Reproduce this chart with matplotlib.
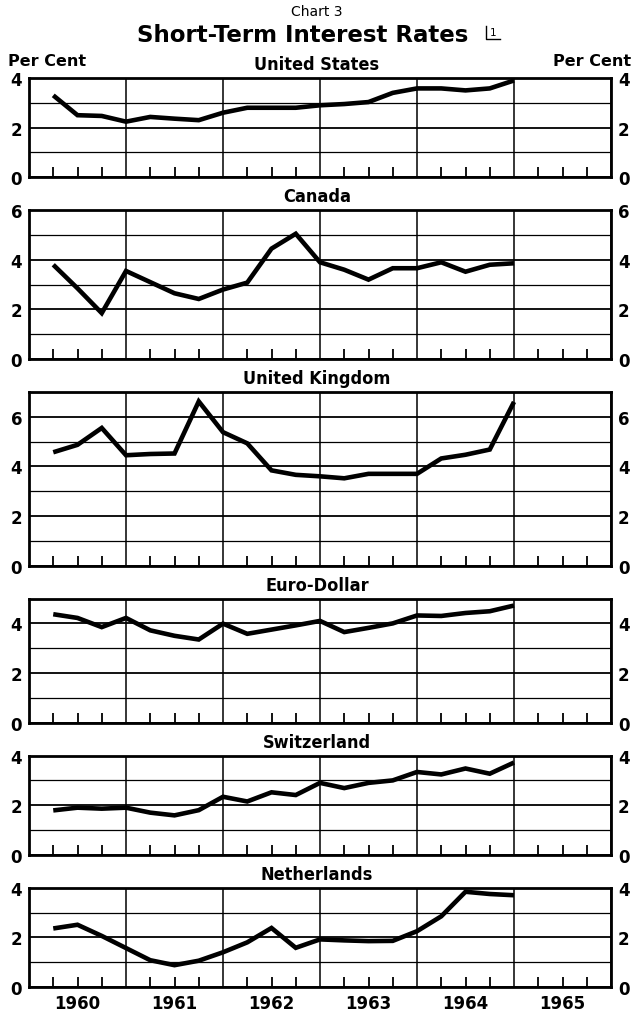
import matplotlib
matplotlib.use('Agg')
import matplotlib.pyplot as plt
from matplotlib import font_manager
from matplotlib.lines import Line2D
from matplotlib.ticker import FixedLocator, NullFormatter

# ---------------- data ----------------
quarter_ends = [1960.25, 1960.5, 1960.75, 1961.0,
                1961.25, 1961.5, 1961.75, 1962.0,
                1962.25, 1962.5, 1962.75, 1963.0,
                1963.25, 1963.5, 1963.75, 1964.0,
                1964.25, 1964.5, 1964.75, 1965.0]

united_states = [3.30, 2.50, 2.47, 2.24, 2.43, 2.36, 2.30, 2.60, 2.80, 2.80,
                 2.80, 2.90, 2.95, 3.03, 3.40, 3.58, 3.58, 3.50, 3.58, 3.90]
canada = [3.80, 2.85, 1.85, 3.55, 3.10, 2.65, 2.42, 2.80, 3.08, 4.45,
          5.05, 3.90, 3.60, 3.20, 3.66, 3.66, 3.90, 3.52, 3.80, 3.86]
united_kingdom = [4.57, 4.87, 5.55, 4.45, 4.50, 4.52, 6.62, 5.38, 4.93, 3.84,
                  3.66, 3.60, 3.52, 3.70, 3.70, 3.70, 4.32, 4.47, 4.68, 6.60]
euro_dollar = [4.37, 4.22, 3.85, 4.22, 3.72, 3.50, 3.35, 3.99, 3.58, 3.75,
               3.92, 4.10, 3.65, 3.82, 4.00, 4.32, 4.30, 4.42, 4.49, 4.72]
switzerland = [1.79, 1.90, 1.86, 1.90, 1.70, 1.59, 1.80, 2.34, 2.15, 2.52,
               2.41, 2.90, 2.69, 2.90, 3.00, 3.34, 3.24, 3.48, 3.27, 3.72]
netherlands = [2.36, 2.51, 2.06, 1.57, 1.08, 0.88, 1.06, 1.40, 1.80, 2.38,
               1.58, 1.92, 1.88, 1.85, 1.86, 2.25, 2.85, 3.84, 3.75, 3.70]

panel_names = ["United States", "Canada", "United Kingdom",
               "Euro-Dollar", "Switzerland", "Netherlands"]
panel_series = [united_states, canada, united_kingdom,
                euro_dollar, switzerland, netherlands]
panel_ymax = [4, 6, 7, 5, 4, 4]

years = [1960, 1961, 1962, 1963, 1964, 1965, 1966]
year_labels = ["1960", "1961", "1962", "1963", "1964", "1965"]

title_top = "Chart 3"
title_main = "Short-Term Interest Rates"
footnote_mark = "1"
unit_label = "Per Cent"

# ---------------- fonts ----------------
plt.rcParams['font.family'] = ['DejaVu Sans']
condensed_ok = any(f.name == 'DejaVu Sans' and f.stretch == 'condensed'
                   for f in font_manager.fontManager.ttflist)

# ---------------- layout (pixels) ----------------
W, H = 634, 1020
fig = plt.figure(figsize=(W / 100, H / 100), dpi=100)
fig.patch.set_facecolor('white')

x_left, x_right = 29, 611
unit_px = 24.8
gap_px = 33.0
top_px = 79


def fx(px):
    return px / W


def fy(py):
    return 1 - py / H


cur = top_px
axes = []
for name, series, ymax in zip(panel_names, panel_series, panel_ymax):
    h = ymax * unit_px
    ax = fig.add_axes([fx(x_left), fy(cur + h), fx(x_right) - fx(x_left), h / H])
    ax.set_xlim(years[0], years[-1])
    ax.set_ylim(0, ymax)
    ax.xaxis.set_major_locator(FixedLocator(years))
    ax.xaxis.set_major_formatter(NullFormatter())
    minor_q = [q for q in quarter_ends if abs(q - round(q)) > 1e-6] + \
              [1965.25, 1965.5, 1965.75]
    ax.xaxis.set_minor_locator(FixedLocator(minor_q))
    ax.yaxis.set_major_locator(FixedLocator(list(range(0, ymax + 1, 2))))
    ax.yaxis.set_minor_locator(FixedLocator(list(range(1, ymax + 1, 2))))
    ax.grid(True, which='major', axis='x', color='black', lw=1.1)
    ax.grid(True, which='major', axis='y', color='black', lw=1.3)
    ax.grid(True, which='minor', axis='y', color='black', lw=0.9)
    ax.tick_params(axis='x', which='major', length=0)
    ax.tick_params(axis='x', which='minor', direction='in', length=7,
                   width=1.3, color='black', bottom=True, top=False)
    ax.tick_params(axis='y', which='both', length=0, labelleft=True,
                   labelright=True, pad=5, labelsize=12)
    for lab in ax.get_yticklabels():
        lab.set_fontweight('bold')
    for s in ax.spines.values():
        s.set_linewidth(2.0)
        s.set_color('black')
    ax.set_axisbelow(True)
    ax.plot(quarter_ends, series, color='black', lw=3.3,
            solid_joinstyle='miter', solid_capstyle='butt', zorder=5)
    if condensed_ok:
        fig.text(0.5, fy(cur - 14), name, ha='center', va='center',
                 fontsize=13, fontweight='bold', fontstretch='condensed')
    else:
        fig.text(0.5, fy(cur - 14), name, ha='center', va='center',
                 fontsize=11.5, fontweight='bold')
    axes.append(ax)
    cur += h + gap_px

# year labels on bottom panel
bottom_ax = axes[-1]
for y, lab in zip(years[:-1], year_labels):
    bottom_ax.text(y + 0.5, fy(1004), lab,
                   transform=matplotlib.transforms.blended_transform_factory(
                       bottom_ax.transData, fig.transFigure),
                   ha='center', va='center', fontsize=12, fontweight='bold')

# titles
fig.text(0.5, fy(12), title_top, ha='center', va='center', fontsize=10)
fig.text(fx(303), fy(36), title_main, ha='center', va='center',
         fontsize=16.5, fontweight='bold')
# footnote mark: small "1" in an open bracket
fig.text(fx(493), fy(33), footnote_mark, ha='center', va='center', fontsize=7.5)
fig.add_artist(Line2D([fx(486), fx(486), fx(500)], [fy(27), fy(40), fy(40)],
                      transform=fig.transFigure, color='black', lw=1.0))
fig.text(fx(8), fy(62), unit_label, ha='left', va='center',
         fontsize=11.5, fontweight='bold')
fig.text(fx(631), fy(62), unit_label, ha='right', va='center',
         fontsize=11.5, fontweight='bold')

fig.savefig('out.png', dpi=100, facecolor='white')
